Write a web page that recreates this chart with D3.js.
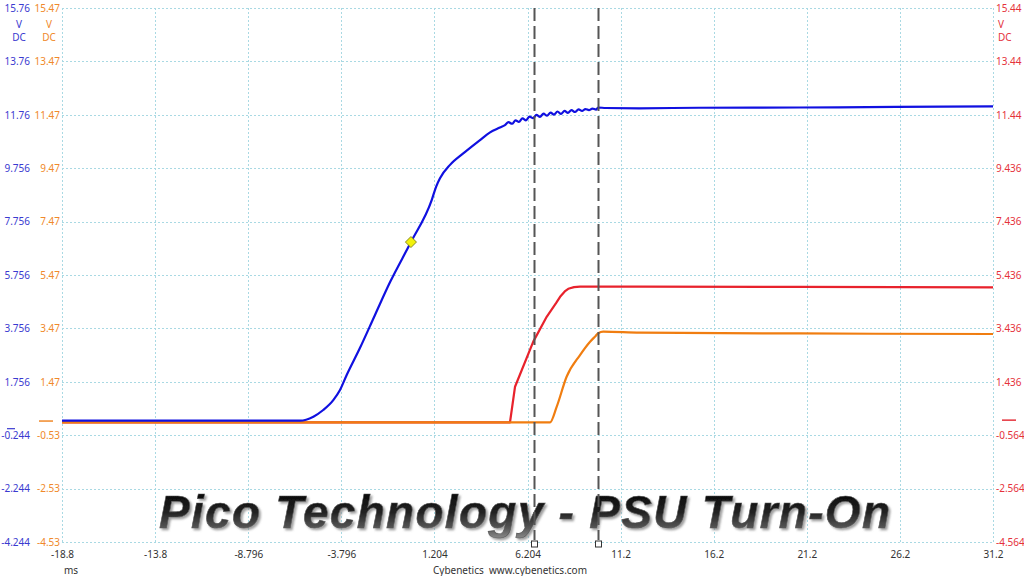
<!DOCTYPE html>
<html><head><meta charset="utf-8">
<script src="https://cdn.jsdelivr.net/npm/d3@7"></script>
<style>body{margin:0;background:#fff}svg{display:block}</style>
</head><body><svg id="c" width="1024" height="576"></svg>
<script>
// ---- data (time in ms, voltage in V) ----
const xTickLabels = ["-18.8","-13.8","-8.796","-3.796","1.204","6.204","11.2","16.2","21.2","26.2","31.2"];
const xTickValues = [-18.8,-13.8,-8.796,-3.796,1.204,6.204,11.2,16.2,21.2,26.2,31.2];
const blueTickLabels = ["15.76","13.76","11.76","9.756","7.756","5.756","3.756","1.756","-0.244","-2.244","-4.244"];
const blueTickValues = [15.756,13.756,11.756,9.756,7.756,5.756,3.756,1.756,-0.244,-2.244,-4.244];
const orangeTickLabels = ["15.47","13.47","11.47","9.47","7.47","5.47","3.47","1.47","-0.53","-2.53","-4.53"];
const orangeTickValues = [15.47,13.47,11.47,9.47,7.47,5.47,3.47,1.47,-0.53,-2.53,-4.53];
const redTickLabels = ["15.44","13.44","11.44","9.436","7.436","5.436","3.436","1.436","-0.564","-2.564","-4.564"];
const redTickValues = [15.436,13.436,11.436,9.436,7.436,5.436,3.436,1.436,-0.564,-2.564,-4.564];

const blueT = [-18.8,-6.02,-5.30,-4.77,-4.23,-3.87,-3.51,-2.80,-1.99,-1.18,-0.06,1.06,1.29,1.50,2.04,2.75,3.65,4.19,4.72,4.99,
  5.18,5.37,5.56,5.74,5.93,6.12,6.31,6.50,6.68,6.87,7.06,7.25,7.44,7.62,7.81,8.00,8.19,8.37,8.56,8.75,8.94,9.13,9.31,9.50,9.69,9.88,9.99,
  10.4,12.2,15.4,20.8,26.0,31.2];
const blueV = [0.30,0.30,0.45,0.70,1.07,1.45,2.01,3.02,4.26,5.49,6.99,8.57,9.06,9.38,9.88,10.31,10.81,11.10,11.28,11.37,
  11.48,11.42,11.55,11.49,11.62,11.55,11.69,11.63,11.75,11.68,11.80,11.72,11.84,11.76,11.88,11.79,11.90,11.83,11.93,11.86,11.96,11.90,11.97,11.93,11.99,11.95,12.03,
  12.01,12.00,12.02,12.03,12.05,12.07];
const redT = [-18.8,5.26,5.53,6.51,7.23,7.75,7.95,8.20,8.39,8.70,9.02,12.24,20.8,31.2];
const redV = [-0.08,-0.08,1.25,2.94,3.87,4.40,4.62,4.82,4.92,4.98,5.00,5.00,4.99,4.97];
const orangeT = [-18.8,7.41,7.77,8.30,9.02,9.56,9.85,10.00,10.27,12.24,20.8,31.2];
const orangeV = [-0.05,-0.05,0.54,1.66,2.47,2.97,3.18,3.29,3.35,3.31,3.28,3.26];
const cursorT = [6.55, 9.99];
const triggerT = [-0.06], triggerV = [6.99];

const svg = d3.select("#c");
const L=62,R=993,T=8,B=542;
const x = d3.scaleLinear().domain([-18.8,31.2]).range([L,R]);
const yB = d3.scaleLinear().domain([-4.244,15.756]).range([B,T]);
const yO = d3.scaleLinear().domain([-4.53,15.47]).range([B,T]);
const yR = d3.scaleLinear().domain([-4.564,15.436]).range([B,T]);
const font = "'Noto Sans', 'Open Sans', sans-serif";
const fs = "10px";
const blueC="#1010e0", orangeC="#f07d10", redC="#e8222c";
const blueL="#3a3ad0", orangeL="#f0892a", redL="#e5323c";

// grid
const grid = svg.append("g").attr("stroke","#a9d9e3").attr("stroke-width",1).attr("stroke-dasharray","2,2");
grid.selectAll(".gx").data(xTickValues).join("line")
  .attr("x1",d=>Math.round(x(d))+0.5).attr("x2",d=>Math.round(x(d))+0.5).attr("y1",T).attr("y2",B);
grid.selectAll(".gy").data(blueTickValues).join("line")
  .attr("x1",L).attr("x2",R).attr("y1",d=>Math.round(yB(d))+0.5).attr("y2",d=>Math.round(yB(d))+0.5);

// axes
function styleAxis(g,color){
  g.select(".domain").remove();
  g.selectAll(".tick line").remove();
  g.selectAll("text").attr("fill",color).style("font-family",font).style("font-size",fs);
}
svg.append("g").attr("transform","translate(30,0)")
  .call(d3.axisLeft(yB).tickValues(blueTickValues).tickFormat((d,i)=>blueTickLabels[i]).tickSize(0).tickPadding(0))
  .call(g=>styleAxis(g,blueL));
svg.append("g").attr("transform","translate(60,0)")
  .call(d3.axisLeft(yO).tickValues(orangeTickValues).tickFormat((d,i)=>orangeTickLabels[i]).tickSize(0).tickPadding(0))
  .call(g=>styleAxis(g,orangeL));
svg.append("g").attr("transform","translate(996,0)")
  .call(d3.axisRight(yR).tickValues(redTickValues).tickFormat((d,i)=>redTickLabels[i]).tickSize(0).tickPadding(0))
  .call(g=>styleAxis(g,redL));
svg.append("g").attr("transform","translate(0,551)")
  .call(d3.axisBottom(x).tickValues(xTickValues).tickFormat((d,i)=>xTickLabels[i]).tickSize(0).tickPadding(0))
  .call(g=>styleAxis(g,"#333"));

// unit labels
const units=[{x:19,a:"middle",c:blueL},{x:49,a:"middle",c:orangeL},{x:998,a:"start",c:redL}];
units.forEach(u=>{
  ["V","DC"].forEach((s,i)=>svg.append("text").attr("x",u.x).attr("y",28+i*13).attr("text-anchor",u.a)
    .attr("fill",u.c).style("font-family",font).style("font-size",fs).text(s));
});
svg.append("text").attr("x",64).attr("y",574).attr("fill","#333").style("font-family",font).style("font-size",fs).text("ms");
svg.append("text").attr("x",510).attr("y",574).attr("text-anchor","middle").attr("fill","#333")
  .style("font-family",font).style("font-size",fs).attr("xml:space","preserve").text("Cybenetics  www.cybenetics.com");

// zero markers
svg.append("line").attr("x1",7).attr("x2",15).attr("y1",yB(0)).attr("y2",yB(0)).attr("stroke",blueL).attr("stroke-width",1.2);
svg.append("line").attr("x1",39).attr("x2",53).attr("y1",yO(0)).attr("y2",yO(0)).attr("stroke",orangeL).attr("stroke-width",1.5);
svg.append("line").attr("x1",1002).attr("x2",1016).attr("y1",yR(0)).attr("y2",yR(0)).attr("stroke",redL).attr("stroke-width",1.5);

// traces
function trace(ts,vs,ys,color,curve){
  const pts = ts.map((t,i)=>[x(t),ys(vs[i])]);
  svg.append("path").attr("d",d3.line().curve(curve)(pts)).attr("fill","none").attr("stroke",color)
    .attr("stroke-width",2.2).attr("stroke-linejoin","round");
}
trace(redT,redV,yR,redC,d3.curveLinear);
trace(orangeT,orangeV,yO,orangeC,d3.curveMonotoneX);
trace(blueT,blueV,yB,blueC,d3.curveMonotoneX);

// trigger diamond
triggerT.forEach((t,i)=>{
  const cx=x(t), cy=yB(triggerV[i]);
  svg.append("path").attr("d",`M${cx},${cy-5.5}L${cx+5.5},${cy}L${cx},${cy+5.5}L${cx-5.5},${cy}Z`)
    .attr("fill","#f2f20a").attr("stroke","#8a8a20").attr("stroke-width",1);
});

// title
const defs = svg.append("defs");
const gr = defs.append("linearGradient").attr("id","tg").attr("x1",0).attr("y1",0).attr("x2",0).attr("y2",1);
gr.append("stop").attr("offset","0").attr("stop-color","#000");
gr.append("stop").attr("offset","0.5").attr("stop-color","#222");
gr.append("stop").attr("offset","0.8").attr("stop-color","#555");
gr.append("stop").attr("offset","1").attr("stop-color","#888");
const f = defs.append("filter").attr("id","sh").attr("x","-5%").attr("y","-20%").attr("width","110%").attr("height","140%");
f.append("feDropShadow").attr("dx",2).attr("dy",2).attr("stdDeviation",1.2).attr("flood-color","#888").attr("flood-opacity",0.8);
svg.append("text").attr("x",159).attr("y",528).attr("textLength",731).attr("lengthAdjust","spacing")
  .attr("fill","url(#tg)").attr("filter","url(#sh)").attr("stroke","#555").attr("stroke-width",0.6)
  .style("font-family","'Liberation Sans', Arial, sans-serif").style("font-weight","bold").style("font-style","italic")
  .style("font-size","46px").text("Pico Technology - PSU Turn-On");

// cursors
cursorT.forEach(t=>{
  const cx=Math.round(x(t))+0.5;
  svg.append("line").attr("x1",cx).attr("x2",cx).attr("y1",T).attr("y2",B-2)
    .attr("stroke","#555").attr("stroke-width",2).attr("stroke-dasharray","13,5");
  svg.append("rect").attr("x",cx-3).attr("y",B-1).attr("width",6).attr("height",6)
    .attr("fill","#fff").attr("stroke","#333").attr("stroke-width",1);
});
</script></body></html>
